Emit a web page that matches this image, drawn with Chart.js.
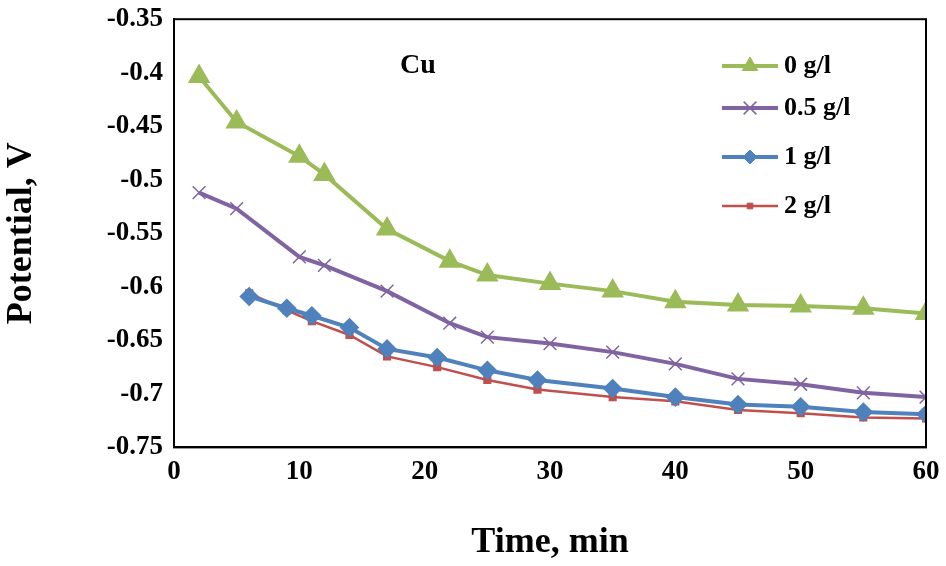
<!DOCTYPE html>
<html><head><meta charset="utf-8">
<script src="https://cdn.jsdelivr.net/npm/chart.js@4"></script>
<style>html,body{margin:0;padding:0;background:#fff}#w{width:946px;height:566px}</style>
</head><body><div id="w"><canvas id="c"></canvas></div>
<script>
const timeA = [2,5,10,12,17,22,25,30,35,40,45,50,55,60];
const timeB = [6,9,11,14,17,21,25,29,35,40,45,50,55,60];
const s0 = [-0.4035,-0.446,-0.478,-0.495,-0.546,-0.576,-0.589,-0.597,-0.604,-0.614,-0.617,-0.618,-0.620,-0.625];
const s05 = [-0.512,-0.527,-0.572,-0.580,-0.604,-0.634,-0.647,-0.653,-0.661,-0.672,-0.686,-0.691,-0.699,-0.703];
const s1 = [-0.609,-0.620,-0.627,-0.638,-0.658,-0.666,-0.678,-0.687,-0.695,-0.703,-0.710,-0.712,-0.717,-0.719];
const s2 = [-0.606,-0.622,-0.632,-0.645,-0.665,-0.675,-0.687,-0.696,-0.703,-0.707,-0.715,-0.718,-0.722,-0.723];
const labels = ['0 g/l','0.5 g/l','1 g/l','2 g/l'];
const FONT = "'Liberation Serif','Times New Roman',serif";
const pts = (xs,ys)=>xs.map((x,i)=>({x,y:ys[i]}));
const ds = [
 {label:labels[0],data:pts(timeA,s0),borderColor:'#9BBB59',backgroundColor:'#9BBB59',pointStyle:'triangle',pointRadius:9,borderWidth:4},
 {label:labels[1],data:pts(timeA,s05),borderColor:'#8064A2',backgroundColor:'#8064A2',pointStyle:'crossRot',pointRadius:9,pointBorderWidth:1.5,borderWidth:4},
 {label:labels[2],data:pts(timeB,s1),borderColor:'#4F81BD',backgroundColor:'#4F81BD',pointStyle:'rectRot',pointRadius:7,borderWidth:4},
 {label:labels[3],data:pts(timeB,s2),borderColor:'#C0504D',backgroundColor:'#C0504D',pointStyle:'rect',pointRadius:4,borderWidth:2.5}
];
const extra = {id:'extra',afterDatasetsDraw(ch){
 const c=ch.ctx,a=ch.chartArea;
 c.save();
 c.strokeStyle='#000';c.lineWidth=2;c.strokeRect(a.left,a.top,a.right-a.left,a.bottom-a.top);
 c.fillStyle='#000';c.font="bold 28px "+FONT;c.textBaseline='middle';
 c.fillText('Cu',400,66);
 const ys=[66,108,157,206];
 ds.forEach((d,i)=>{
  const y=ys[i];
  c.strokeStyle=d.borderColor;c.lineWidth=d.borderWidth;
  c.beginPath();c.moveTo(722,y);c.lineTo(778,y);c.stroke();
  c.fillStyle=d.borderColor;c.strokeStyle=d.borderColor;c.lineWidth=d.pointBorderWidth||1;
  Chart.helpers.drawPoint(c,{pointStyle:d.pointStyle,radius:d.pointRadius,borderWidth:d.pointBorderWidth||1,rotation:0},750,y);
  c.fillStyle='#000';c.font="bold 26px "+FONT;
  c.fillText(d.label,784,y);
 });
 c.restore();
}};
new Chart(document.getElementById('c'),{type:'line',data:{datasets:ds},
 options:{responsive:true,maintainAspectRatio:false,animation:false,
  layout:{padding:{top:12,right:20,left:0,bottom:2}},
  plugins:{legend:{display:false},tooltip:{enabled:false}},
  scales:{
   x:{type:'linear',min:0,max:60,grid:{display:false},border:{color:'#000',width:2},
      ticks:{stepSize:10,color:'#000',font:{family:FONT,size:27,weight:'bold'},padding:0},
      title:{display:true,text:'Time, min',color:'#000',font:{family:FONT,size:36,weight:'bold'},padding:{top:33,bottom:0}}},
   y:{min:-0.75,max:-0.35,grid:{display:false},border:{color:'#000',width:2},
      afterFit(s){s.width=174;},
      ticks:{stepSize:0.05,color:'#000',font:{family:FONT,size:27,weight:'bold'},callback:v=>String(Math.round(v*100)/100)},
      title:{display:true,text:'Potential, V',color:'#000',font:{family:FONT,size:36,weight:'bold'},padding:{top:0,bottom:10}}}
  }},plugins:[extra]});
</script></body></html>
